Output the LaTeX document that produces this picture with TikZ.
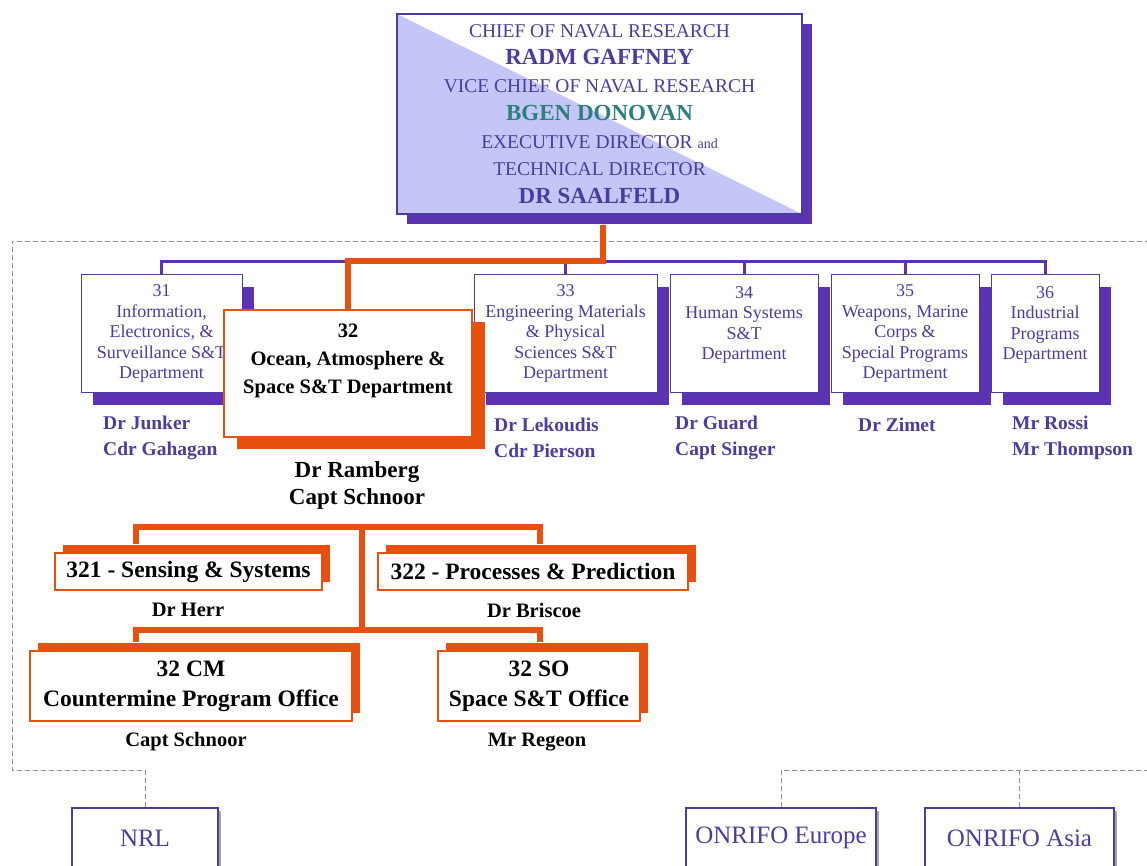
\documentclass[tikz,border=0pt]{standalone}
\usepackage{fontspec}
\setmainfont{Liberation Serif}
\usetikzlibrary{shadows}
\definecolor{onrpurple}{HTML}{4B3CA0}
\definecolor{onrshadow}{HTML}{5A32B2}
\definecolor{onrorange}{HTML}{E8500F}
\definecolor{onrlav}{HTML}{C3C6F7}
\definecolor{onrteal}{HTML}{2F7F7F}
\definecolor{onrdash}{HTML}{8C8CA8}
\tikzset{
	chief/.style={draw=onrpurple, line width=1.5pt, fill=white, minimum width=405, minimum height=200,
		inner sep=0pt, align=center, text=onrpurple, font=\fontsize{19.5}{27.7}\selectfont,
		drop shadow={shadow xshift=10pt, shadow yshift=-10pt, fill=onrshadow, opacity=1},
		path picture={\fill[onrlav] (path picture bounding box.north west) -- (path picture bounding box.south east)
			-- (path picture bounding box.south west) -- cycle;}},
	dept/.style={draw=onrpurple, line width=1pt, fill=white, minimum height=118, inner sep=0pt,
		align=center, text=onrpurple, font=\fontsize{18}{20.5}\selectfont,
		drop shadow={shadow xshift=12pt, shadow yshift=-12pt, fill=onrshadow, opacity=1}},
	ocean/.style={draw=onrorange, line width=1.5pt, fill=white, minimum width=248, minimum height=127,
		inner sep=0pt, align=center, text depth=29pt, font=\bfseries\fontsize{20.5}{28}\selectfont,
		drop shadow={shadow xshift=13pt, shadow yshift=-12pt, fill=onrorange, opacity=1}},
	division/.style={draw=onrorange, line width=1.2pt, fill=white, inner sep=0pt, align=center,
		font=\bfseries\fontsize{23.5}{30}\selectfont,
		drop shadow={shadow xshift=8pt, shadow yshift=8pt, fill=onrorange, opacity=1}},
	site/.style={draw=onrpurple, line width=1.2pt, fill=white, minimum height=60, inner sep=0pt,
		text=onrpurple, font=\fontsize{25}{28}\selectfont,
		drop shadow={shadow xshift=3pt, shadow yshift=-3pt, fill=gray!70, opacity=1}},
	who/.style={anchor=west, inner sep=0pt, align=left, text=onrpurple, font=\bfseries\fontsize{19.5}{26}\selectfont},
	head/.style={inner sep=0pt, align=center, font=\bfseries\fontsize{20.5}{27}\selectfont},
	purline/.style={draw=onrshadow, line width=3pt},
	orgline/.style={draw=onrorange, line width=6pt},
	dashline/.style={draw=onrdash, line width=1pt, dash pattern=on 5pt off 3pt}
}
\begin{document}
\begin{tikzpicture}[x=1pt, y=-1pt]

	\useasboundingbox (0,0) rectangle (1147,865);
	\clip (0,0) rectangle (1147,865);

	% field activities
	\node[site, minimum width=146] (nrl) at (145,838) {NRL};
	\node[site, minimum width=190] (eur) at (781,838) {ONRIFO Europe};
	\node[site, minimum width=189] (asia) at (1019.5,838) {ONRIFO Asia};

	\draw[dashline] (nrl.north) |- (12,770) |- (1160,241);
	\draw[dashline] (eur.north) |- (1160,770);
	\draw[dashline] (asia.north) -- (asia.north |- 0,770);

	% front office
	\node[chief] (cnr) at (599.5,114) {CHIEF OF NAVAL RESEARCH\\
		{\bfseries\fontsize{23}{27.7}\selectfont RADM GAFFNEY}\\
		VICE CHIEF OF NAVAL RESEARCH\\
		{\color{onrteal}\bfseries\fontsize{23}{27.7}\selectfont BGEN DONOVAN}\\
		EXECUTIVE DIRECTOR {\fontsize{14}{27.7}\selectfont and}\\
		TECHNICAL DIRECTOR\\
		{\bfseries\fontsize{23}{27.7}\selectfont DR SAALFELD}};

	% departments
	\node[dept, minimum width=161] (d31) at (161.5,333.5) {31\\Information,\\Electronics, \&\\Surveillance S\&T\\Department};
	\node[dept, minimum width=183] (d33) at (565.5,333.5) {33\\Engineering Materials\\\& Physical\\Sciences S\&T\\Department};
	\node[dept, minimum width=148, text depth=21pt] (d34) at (744,333.5) {34\\Human Systems\\S\&T\\Department};
	\node[dept, minimum width=148] (d35) at (905,333.5) {35\\Weapons, Marine\\Corps \&\\Special Programs\\Department};
	\node[dept, minimum width=108, text depth=21pt] (d36) at (1045,333.5) {36\\Industrial\\Programs\\Department};

	\coordinate (bus) at (0,261);
	\draw[purline] (d31.north) |- (bus -| d36.north) -- (d36.north);
	\draw[purline] (d33.north) -- (d33.north |- bus);
	\draw[purline] (d34.north) -- (d34.north |- bus);
	\draw[purline] (d35.north) -- (d35.north |- bus);

	\node[ocean] (d32) at (348,373.5) {32\\Ocean, Atmosphere \&\\Space S\&T Department};
	\draw[orgline] ([xshift=3pt,yshift=-10pt]cnr.south) -- ++(0,36) -| (d32.north);

	\node[who] (n31) at (103,438) {Dr Junker\\Cdr Gahagan};
	\node[who] (n33) at (494,438) {Dr Lekoudis\\Cdr Pierson};
	\node[who] (n34) at (675,438) {Dr Guard\\Capt Singer};
	\node[who] (n35) at (858,425) {Dr Zimet};
	\node[who] (n36) at (1012,438) {Mr Rossi\\Mr Thompson};

	\node[head, font=\bfseries\fontsize{23}{27}\selectfont] (ramberg) at (357,485) {Dr Ramberg\\Capt Schnoor};

	% divisions and offices
	\node[division, minimum width=267, minimum height=37] (s321) at (188.5,571.5) {321 - Sensing \& Systems};
	\node[division, minimum width=310, minimum height=37] (s322) at (533,571.5) {322 - Processes \& Prediction};
	\node[division, minimum width=322, minimum height=70] (cm) at (191,686) {32 CM\\Countermine Program Office};
	\node[division, minimum width=202, minimum height=70] (so) at (539,686) {32 SO\\Space S\&T Office};

	\coordinate (j1) at (362,527);
	\coordinate (j2) at (362,630);
	\draw[orgline] (j1) -- (j2);
	\draw[orgline] ([xshift=-52.5pt,yshift=8pt]s321.north) |- (j1) -| ([xshift=7pt,yshift=8pt]s322.north);
	\draw[orgline] ([xshift=-55pt,yshift=8pt]cm.north) |- (j2) -| ([xshift=1pt,yshift=8pt]so.north);

	\node[head] (herr) at (188,610) {Dr Herr};
	\node[head] (briscoe) at (534,610) {Dr Briscoe};
	\node[head] (schnoor) at (186,742) {Capt Schnoor};
	\node[head] (regeon) at (537,742) {Mr Regeon};

\end{tikzpicture}
\end{document}
